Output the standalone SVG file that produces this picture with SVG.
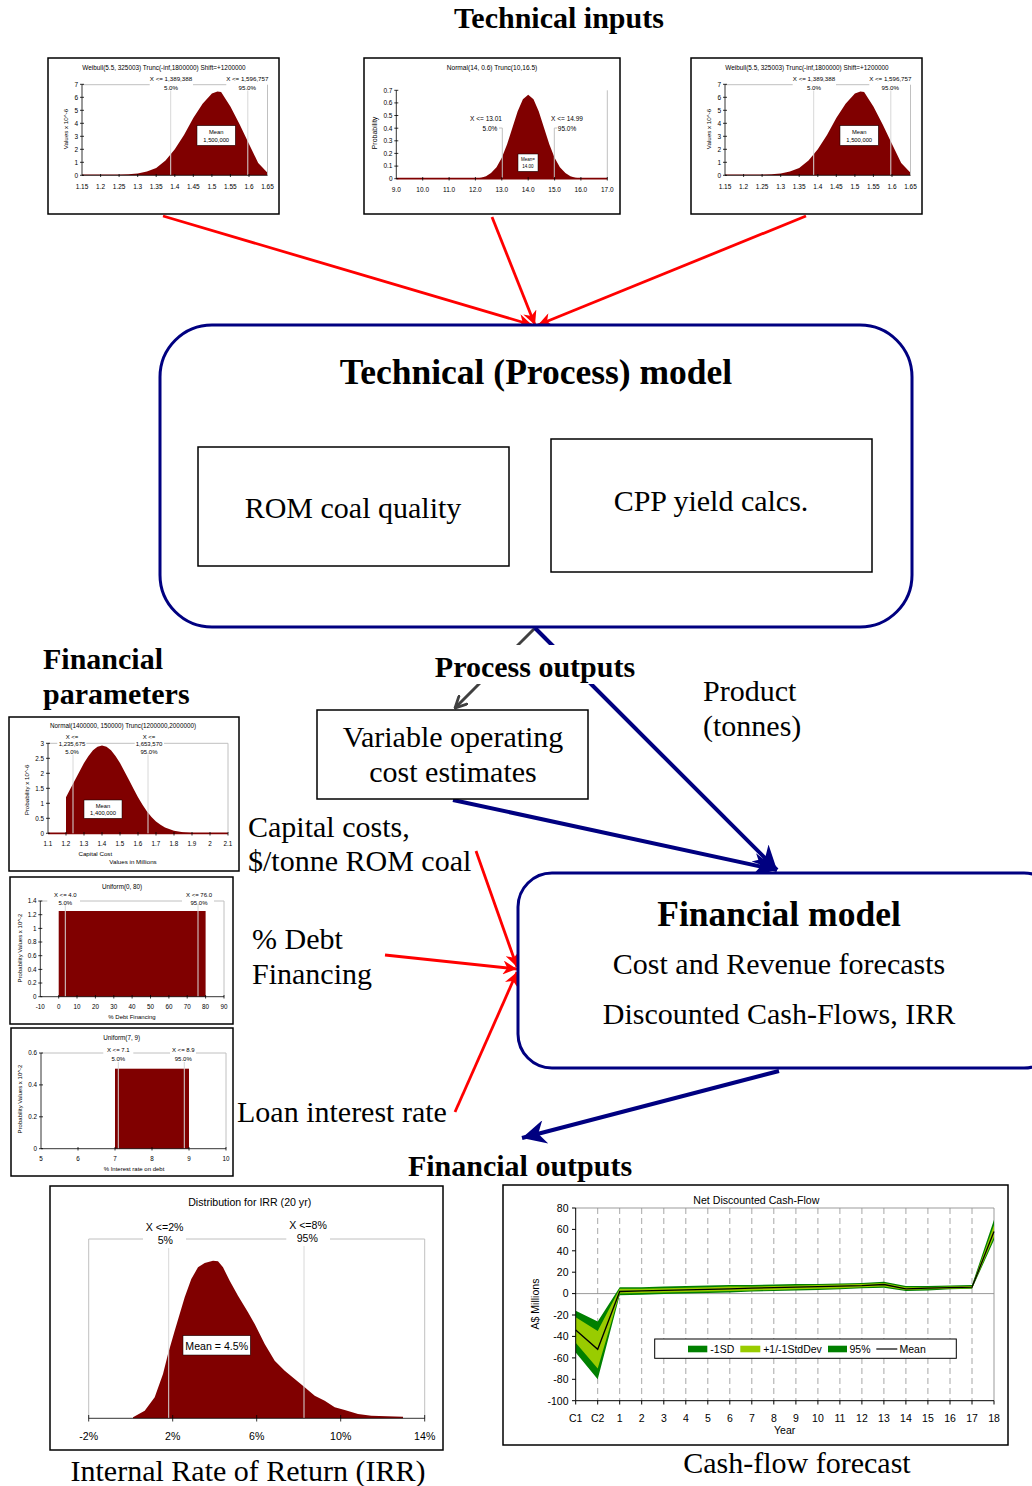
<svg xmlns="http://www.w3.org/2000/svg" width="1032" height="1486" viewBox="0 0 1032 1486">
<style>
.t{font-family:"Liberation Serif","Times New Roman",serif;fill:#000}
.b{font-weight:bold}
.s{font-family:"Liberation Sans",Arial,sans-serif;fill:#000}
.frame{fill:#fff;stroke:#000;stroke-width:1.5}
.dist{fill:#800000}
.gl{stroke:#c0c0c0;stroke-width:1;fill:none}
.wl{stroke:#d8d8d8;stroke-width:1;fill:none}
.ax{stroke:#000;stroke-width:0.8;fill:none}
.mb{fill:#fff;stroke:#000;stroke-width:0.5}
.red{stroke:#ff0000;stroke-width:2.8;fill:none}
.navy{stroke:#000080;stroke-width:4;fill:none}
.box{fill:#fff;stroke:#000;stroke-width:1.5}
.rbox{fill:#fff;stroke:#000080;stroke-width:3}
</style>
<defs>
<marker id="ahR" markerUnits="userSpaceOnUse" viewBox="0 0 10 10" refX="10" refY="5" markerWidth="16" markerHeight="14" orient="auto"><path d="M0,0 L10,5 L0,10 L3,5 Z" fill="#ff0000"/></marker>
<marker id="ahN" markerUnits="userSpaceOnUse" viewBox="0 0 10 10" refX="10" refY="5" markerWidth="28" markerHeight="24" orient="auto"><path d="M0,0 L10,5 L0,10 L3,5 Z" fill="#000080"/></marker>
<marker id="ahG" markerUnits="userSpaceOnUse" viewBox="0 0 10 10" refX="9" refY="5" markerWidth="14" markerHeight="14" orient="auto"><path d="M0,0.5 L9,5 L0,9.5" fill="none" stroke="#404040" stroke-width="2"/></marker>
<marker id="ahK" markerUnits="userSpaceOnUse" viewBox="0 0 10 10" refX="10" refY="5" markerWidth="14" markerHeight="14" orient="auto"><path d="M0,0 L10,5 L0,10 Z" fill="#333"/></marker>
</defs>
<rect width="1032" height="1486" fill="#fff"/>

<!-- Titles -->
<text class="t b" x="559" y="28" font-size="30" text-anchor="middle">Technical inputs</text>

<!-- Top chart 1 -->
<g id="chart-weibull-1">
<rect class="frame" x="48" y="58" width="231" height="156"/>
<text class="s" x="164" y="69.5" font-size="6.4" text-anchor="middle">Weibull(5.5, 325003) Trunc(-inf,1800000) Shift=+1200000</text>
<path class="dist" d="M82,175.3 L82,174.5 L100.6,174.5 L119.1,174.4 L128.4,174.2 L137.7,173.4 L146.9,171.4 L156.2,167.9 L165.5,160.4 L174.8,149.3 L184.0,135.0 L193.3,118.1 L202.6,103.8 L211.9,93.4 L217.4,91.4 L221.1,92.1 L230.4,106.4 L239.7,124.6 L249.0,144.1 L258.2,163.0 L267.5,172.7 L267.5,175.3 Z"/>
<path class="gl" d="M82,84.7 H149.7 M193,84.7 H226.3 M267.5,84.7 V175.3"/>
<path class="wl" d="M170.7,90.5 V175.3 M247.8,90.5 V175.3"/>
<text class="s" font-size="6.2" text-anchor="middle"><tspan x="171" y="80.5">X &lt;= 1,389,388</tspan><tspan x="171" y="89.5">5.0%</tspan><tspan x="247.3" y="80.5">X &lt;= 1,596,757</tspan><tspan x="247.3" y="89.5">95.0%</tspan></text>
<path class="ax" d="M82,84.3 V175.3 H267.5 M80,175.3 H84 M80,162.3 H84 M80,149.3 H84 M80,136.3 H84 M80,123.3 H84 M80,110.3 H84 M80,97.3 H84 M80,84.3 H84 M100.6,174 V177 M119.1,174 V177 M137.7,174 V177 M156.2,174 V177 M174.8,174 V177 M193.3,174 V177 M211.9,174 V177 M230.4,174 V177 M249,174 V177"/>
<text class="s" font-size="6.5" text-anchor="end"><tspan x="78" y="177.6">0</tspan><tspan x="78" y="164.6">1</tspan><tspan x="78" y="151.6">2</tspan><tspan x="78" y="138.6">3</tspan><tspan x="78" y="125.6">4</tspan><tspan x="78" y="112.6">5</tspan><tspan x="78" y="99.6">6</tspan><tspan x="78" y="86.6">7</tspan></text>
<text class="s" font-size="6.5" text-anchor="middle"><tspan x="82" y="188.5">1.15</tspan><tspan x="100.6" y="188.5">1.2</tspan><tspan x="119.1" y="188.5">1.25</tspan><tspan x="137.7" y="188.5">1.3</tspan><tspan x="156.2" y="188.5">1.35</tspan><tspan x="174.8" y="188.5">1.4</tspan><tspan x="193.3" y="188.5">1.45</tspan><tspan x="211.9" y="188.5">1.5</tspan><tspan x="230.4" y="188.5">1.55</tspan><tspan x="249" y="188.5">1.6</tspan><tspan x="267.5" y="188.5">1.65</tspan></text>
<text class="s" font-size="6.2" text-anchor="middle" transform="translate(67.5,129) rotate(-90)">Values x 10^-6</text>
<rect class="mb" x="197" y="125.7" width="38.3" height="19.6"/>
<text class="s" font-size="5.8" text-anchor="middle"><tspan x="216.2" y="133.7">Mean</tspan><tspan x="216.2" y="141.5">1,500,000</tspan></text>
</g>

<!-- Top chart 2 -->
<g id="chart-normal">
<rect class="frame" x="364" y="58" width="256" height="156"/>
<text class="s" x="492" y="69.5" font-size="6.6" text-anchor="middle">Normal(14, 0.6) Trunc(10,16.5)</text>
<path class="dist" d="M470,178.7 L475.4,178.4 L481,177.8 L486.0,176.3 L491,173 L496.5,167.3 L501.8,157.7 L507.1,144.2 L512.4,127.8 L517.6,111.5 L522.9,99.3 L528.2,94.7 L533.5,99.3 L538.8,111.5 L544.0,127.8 L549.3,144.2 L554.6,157.7 L559.9,167.3 L565.4,173 L570.4,176.3 L575.4,177.8 L580.9,178.4 L586,178.7 Z"/>
<path class="gl" d="M607.3,90.3 V178.7 M499,128 H502.3 V178.7 M554.3,178.7 V128 H557"/>
<text class="s" font-size="6.5" text-anchor="middle"><tspan x="486" y="121">X &lt;= 13.01</tspan><tspan x="490" y="131">5.0%</tspan><tspan x="567" y="121">X &lt;= 14.99</tspan><tspan x="567" y="131">95.0%</tspan></text>
<path d="M396.3,178.7 H607.3" stroke="#800000" stroke-width="1.8"/>
<path class="ax" d="M396.3,90.3 V178.7 M394.3,178.7 H398.3 M394.3,166.1 H398.3 M394.3,153.4 H398.3 M394.3,140.8 H398.3 M394.3,128.2 H398.3 M394.3,115.5 H398.3 M394.3,102.9 H398.3 M394.3,90.3 H398.3 M422.7,177 V180.5 M449.1,177 V180.5 M475.4,177 V180.5 M501.8,177 V180.5 M528.2,177 V180.5 M554.6,177 V180.5 M580.9,177 V180.5 M607.3,177 V180.5"/>
<text class="s" font-size="6.5" text-anchor="end"><tspan x="392.5" y="181">0</tspan><tspan x="392.5" y="168.4">0.1</tspan><tspan x="392.5" y="155.7">0.2</tspan><tspan x="392.5" y="143.1">0.3</tspan><tspan x="392.5" y="130.5">0.4</tspan><tspan x="392.5" y="117.8">0.5</tspan><tspan x="392.5" y="105.2">0.6</tspan><tspan x="392.5" y="92.6">0.7</tspan></text>
<text class="s" font-size="6.5" text-anchor="middle"><tspan x="396.3" y="192">9.0</tspan><tspan x="422.7" y="192">10.0</tspan><tspan x="449.1" y="192">11.0</tspan><tspan x="475.4" y="192">12.0</tspan><tspan x="501.8" y="192">13.0</tspan><tspan x="528.2" y="192">14.0</tspan><tspan x="554.6" y="192">15.0</tspan><tspan x="580.9" y="192">16.0</tspan><tspan x="607.3" y="192">17.0</tspan></text>
<text class="s" font-size="7" text-anchor="middle" transform="translate(376.5,133) rotate(-90)">Probability</text>
<rect class="mb" x="518" y="154" width="20" height="17.3" stroke-width="0.8"/>
<text class="s" font-size="4.5" text-anchor="middle"><tspan x="528" y="160.5">Mean=</tspan><tspan x="528" y="168">14.00</tspan></text>
</g>

<!-- Top chart 3 -->
<g id="chart-weibull-2" transform="translate(643,0)">
<rect class="frame" x="48" y="58" width="231" height="156"/>
<text class="s" x="164" y="69.5" font-size="6.4" text-anchor="middle">Weibull(5.5, 325003) Trunc(-inf,1800000) Shift=+1200000</text>
<path class="dist" d="M82,175.3 L82,174.5 L100.6,174.5 L119.1,174.4 L128.4,174.2 L137.7,173.4 L146.9,171.4 L156.2,167.9 L165.5,160.4 L174.8,149.3 L184.0,135.0 L193.3,118.1 L202.6,103.8 L211.9,93.4 L217.4,91.4 L221.1,92.1 L230.4,106.4 L239.7,124.6 L249.0,144.1 L258.2,163.0 L267.5,172.7 L267.5,175.3 Z"/>
<path class="gl" d="M82,84.7 H149.7 M193,84.7 H226.3 M267.5,84.7 V175.3"/>
<path class="wl" d="M170.7,90.5 V175.3 M247.8,90.5 V175.3"/>
<text class="s" font-size="6.2" text-anchor="middle"><tspan x="171" y="80.5">X &lt;= 1,389,388</tspan><tspan x="171" y="89.5">5.0%</tspan><tspan x="247.3" y="80.5">X &lt;= 1,596,757</tspan><tspan x="247.3" y="89.5">95.0%</tspan></text>
<path class="ax" d="M82,84.3 V175.3 H267.5 M80,175.3 H84 M80,162.3 H84 M80,149.3 H84 M80,136.3 H84 M80,123.3 H84 M80,110.3 H84 M80,97.3 H84 M80,84.3 H84 M100.6,174 V177 M119.1,174 V177 M137.7,174 V177 M156.2,174 V177 M174.8,174 V177 M193.3,174 V177 M211.9,174 V177 M230.4,174 V177 M249,174 V177"/>
<text class="s" font-size="6.5" text-anchor="end"><tspan x="78" y="177.6">0</tspan><tspan x="78" y="164.6">1</tspan><tspan x="78" y="151.6">2</tspan><tspan x="78" y="138.6">3</tspan><tspan x="78" y="125.6">4</tspan><tspan x="78" y="112.6">5</tspan><tspan x="78" y="99.6">6</tspan><tspan x="78" y="86.6">7</tspan></text>
<text class="s" font-size="6.5" text-anchor="middle"><tspan x="82" y="188.5">1.15</tspan><tspan x="100.6" y="188.5">1.2</tspan><tspan x="119.1" y="188.5">1.25</tspan><tspan x="137.7" y="188.5">1.3</tspan><tspan x="156.2" y="188.5">1.35</tspan><tspan x="174.8" y="188.5">1.4</tspan><tspan x="193.3" y="188.5">1.45</tspan><tspan x="211.9" y="188.5">1.5</tspan><tspan x="230.4" y="188.5">1.55</tspan><tspan x="249" y="188.5">1.6</tspan><tspan x="267.5" y="188.5">1.65</tspan></text>
<text class="s" font-size="6.2" text-anchor="middle" transform="translate(67.5,129) rotate(-90)">Values x 10^-6</text>
<rect class="mb" x="197" y="125.7" width="38.3" height="19.6"/>
<text class="s" font-size="5.8" text-anchor="middle"><tspan x="216.2" y="133.7">Mean</tspan><tspan x="216.2" y="141.5">1,500,000</tspan></text>
</g>

<!-- Connectors -->
<g id="connectors">
<line class="red" x1="163" y1="216" x2="532" y2="325" marker-end="url(#ahR)"/>
<line class="red" x1="492" y1="217" x2="535" y2="325" marker-end="url(#ahR)"/>
<line class="red" x1="806" y1="216" x2="538" y2="325" marker-end="url(#ahR)"/>
<line x1="510" y1="506" x2="550" y2="506" stroke="#333" stroke-width="6" marker-end="url(#ahK)"/>
<line x1="535" y1="628" x2="455" y2="708" stroke="#404040" stroke-width="3" marker-end="url(#ahG)"/>
<line class="navy" x1="535" y1="628" x2="777" y2="870" marker-end="url(#ahN)"/>
<line class="navy" x1="453" y1="800" x2="777" y2="870" marker-end="url(#ahN)"/>
<line class="red" x1="476" y1="851" x2="517" y2="967" marker-end="url(#ahR)"/>
<line class="red" x1="385" y1="955" x2="517" y2="969" marker-end="url(#ahR)"/>
<line class="red" x1="455" y1="1112" x2="517" y2="972" marker-end="url(#ahR)"/>
<line class="navy" x1="779" y1="1071" x2="522" y2="1138" marker-end="url(#ahN)"/>
</g>

<!-- Technical process model -->
<g id="process-model">
<rect class="rbox" x="160" y="325" width="752" height="302" rx="52" ry="52"/>
<text class="t b" x="536" y="384" font-size="35.5" text-anchor="middle">Technical (Process) model</text>
</g>
<g id="rom-coal-quality">
<rect class="box" x="198" y="447" width="311" height="119"/>
<text class="t" x="353" y="518" font-size="30" text-anchor="middle">ROM coal quality</text>
</g>
<g id="cpp-yield">
<rect class="box" x="551" y="439" width="321" height="133"/>
<text class="t" x="711" y="511" font-size="30" text-anchor="middle">CPP yield calcs.</text>
</g>

<!-- Labels -->
<g id="process-outputs-label">
<rect x="427" y="645" width="216" height="39" fill="#fff"/>
<text class="t b" x="535" y="677" font-size="30" text-anchor="middle">Process outputs</text>
</g>
<text class="t b" font-size="30"><tspan x="43" y="669">Financial</tspan><tspan x="43" y="704">parameters</tspan></text>
<text class="t" font-size="30"><tspan x="703" y="701">Product</tspan><tspan x="703" y="736">(tonnes)</tspan></text>

<g id="variable-operating-cost">
<rect class="box" x="317" y="710" width="271" height="89"/>
<text class="t" font-size="30" text-anchor="middle"><tspan x="453" y="747">Variable operating</tspan><tspan x="453" y="782">cost estimates</tspan></text>
</g>

<text class="t" font-size="30"><tspan x="248" y="837">Capital costs,</tspan><tspan x="248" y="871">$/tonne ROM coal</tspan></text>
<text class="t" font-size="30"><tspan x="252" y="949">% Debt</tspan><tspan x="252" y="984">Financing</tspan></text>
<text class="t" x="237" y="1122" font-size="30">Loan interest rate</text>

<!-- Financial model -->
<g id="financial-model">
<rect class="rbox" x="518" y="873" width="540" height="195" rx="34" ry="34"/>
<text class="t b" x="779" y="926" font-size="35.5" text-anchor="middle">Financial model</text>
<text class="t" font-size="30" text-anchor="middle"><tspan x="779" y="974">Cost and Revenue forecasts</tspan><tspan x="779" y="1024">Discounted Cash-Flows, IRR</tspan></text>
</g>

<!-- Financial chart 1: capital cost -->
<g id="chart-capital-cost">
<rect class="frame" x="9" y="717" width="230" height="154"/>
<text class="s" x="123" y="728" font-size="6.3" text-anchor="middle">Normal(1400000, 150000) Trunc(1200000,2000000)</text>
<path class="dist" d="M66,833.3 L66,797.2 L70.5,788.5 L75,780.1 L79.5,771.5 L84,763.0 L88.5,756 L93,750.3 L97.5,746.8 L102,745.5 L106.5,746.8 L111,750.3 L115.5,756 L120,763.0 L124.5,771.5 L129,780.1 L133.5,788.8 L138,797.2 L142.5,804.7 L147,811.4 L151.5,817 L156,821.4 L160.5,824.8 L165,827.5 L174,830.8 L183,832.3 L192,833.0 L210,833.3 Z"/>
<path d="M48,833.3 H228" stroke="#800000" stroke-width="1.8"/>
<path class="gl" d="M48,743.3 H57.3 M86.3,743.3 H134.7 M164,743.3 H228 V833.3"/>
<path class="wl" d="M73,754.5 V833.3 M148,754.5 V833.3"/>
<text class="s" font-size="6" text-anchor="middle"><tspan x="72" y="738.5">X &lt;=</tspan><tspan x="72" y="746">1,235,675</tspan><tspan x="72" y="753.5">5.0%</tspan><tspan x="149" y="738.5">X &lt;=</tspan><tspan x="149" y="746">1,653,570</tspan><tspan x="149" y="753.5">95.0%</tspan></text>
<path class="ax" d="M48,743.3 V833.3 M46,833.3 H50 M46,818.3 H50 M46,803.3 H50 M46,788.3 H50 M46,773.3 H50 M46,758.3 H50 M46,743.3 H50 M66,832 V835.5 M84,832 V835.5 M102,832 V835.5 M120,832 V835.5 M138,832 V835.5 M156,832 V835.5 M174,832 V835.5 M192,832 V835.5 M210,832 V835.5 M228,832 V835.5"/>
<text class="s" font-size="6.3" text-anchor="end"><tspan x="44" y="835.5">0</tspan><tspan x="44" y="820.5">0.5</tspan><tspan x="44" y="805.5">1</tspan><tspan x="44" y="790.5">1.5</tspan><tspan x="44" y="775.5">2</tspan><tspan x="44" y="760.5">2.5</tspan><tspan x="44" y="745.5">3</tspan></text>
<text class="s" font-size="6.3" text-anchor="middle"><tspan x="48" y="845.5">1.1</tspan><tspan x="66" y="845.5">1.2</tspan><tspan x="84" y="845.5">1.3</tspan><tspan x="102" y="845.5">1.4</tspan><tspan x="120" y="845.5">1.5</tspan><tspan x="138" y="845.5">1.6</tspan><tspan x="156" y="845.5">1.7</tspan><tspan x="174" y="845.5">1.8</tspan><tspan x="192" y="845.5">1.9</tspan><tspan x="210" y="845.5">2</tspan><tspan x="228" y="845.5">2.1</tspan></text>
<text class="s" font-size="6.2" text-anchor="middle"><tspan x="95.3" y="855.5">Capital Cost</tspan><tspan x="133" y="864">Values in Millions</tspan></text>
<text class="s" font-size="6.2" text-anchor="middle" transform="translate(28.5,790) rotate(-90)">Probability x 10^-6</text>
<rect class="mb" x="84" y="800" width="38" height="18.3"/>
<text class="s" font-size="5.8" text-anchor="middle"><tspan x="103" y="807.5">Mean</tspan><tspan x="103" y="815.3">1,400,000</tspan></text>
</g>

<!-- Financial chart 2: debt financing -->
<g id="chart-debt-financing">
<rect class="frame" x="10" y="877" width="223" height="147"/>
<text class="s" x="122" y="889" font-size="6.3" text-anchor="middle">Uniform(0, 80)</text>
<rect class="dist" x="58.7" y="911" width="146.9" height="85.7"/>
<path class="gl" d="M40.3,901 H47.3 M80,901 H182 M214,901 H224 V996.7"/>
<path class="wl" d="M65.3,905 V996.7 M198,905 V996.7"/>
<text class="s" font-size="6" text-anchor="middle"><tspan x="65.3" y="896.5">X &lt;= 4.0</tspan><tspan x="65.3" y="904.5">5.0%</tspan><tspan x="199" y="896.5">X &lt;= 76.0</tspan><tspan x="199" y="904.5">95.0%</tspan></text>
<path class="ax" d="M40.3,901 V996.7 H224 M38.3,996.7 H42.3 M38.3,983 H42.3 M38.3,969.4 H42.3 M38.3,955.7 H42.3 M38.3,942 H42.3 M38.3,928.4 H42.3 M38.3,914.7 H42.3 M38.3,901 H42.3 M58.7,995 V998.5 M77,995 V998.5 M95.4,995 V998.5 M113.8,995 V998.5 M132.1,995 V998.5 M150.5,995 V998.5 M168.9,995 V998.5 M187.2,995 V998.5 M205.6,995 V998.5 M224,995 V998.5"/>
<text class="s" font-size="6.3" text-anchor="end"><tspan x="36.5" y="999">0</tspan><tspan x="36.5" y="985.3">0.2</tspan><tspan x="36.5" y="971.7">0.4</tspan><tspan x="36.5" y="958">0.6</tspan><tspan x="36.5" y="944.3">0.8</tspan><tspan x="36.5" y="930.7">1</tspan><tspan x="36.5" y="917">1.2</tspan><tspan x="36.5" y="903.3">1.4</tspan></text>
<text class="s" font-size="6.3" text-anchor="middle"><tspan x="40.3" y="1008.5">-10</tspan><tspan x="58.7" y="1008.5">0</tspan><tspan x="77" y="1008.5">10</tspan><tspan x="95.4" y="1008.5">20</tspan><tspan x="113.8" y="1008.5">30</tspan><tspan x="132.1" y="1008.5">40</tspan><tspan x="150.5" y="1008.5">50</tspan><tspan x="168.9" y="1008.5">60</tspan><tspan x="187.2" y="1008.5">70</tspan><tspan x="205.6" y="1008.5">80</tspan><tspan x="224" y="1008.5">90</tspan></text>
<text class="s" x="132" y="1018.5" font-size="6" text-anchor="middle">% Debt Financing</text>
<text class="s" font-size="6" text-anchor="middle" transform="translate(21.5,948) rotate(-90)">Probability Values x 10^-2</text>
</g>

<!-- Financial chart 3: interest rate -->
<g id="chart-interest-rate">
<rect class="frame" x="11" y="1028" width="222" height="148"/>
<text class="s" x="121.7" y="1040" font-size="6.3" text-anchor="middle">Uniform(7, 9)</text>
<rect class="dist" x="115" y="1068.7" width="74" height="80"/>
<path class="gl" d="M41,1053 H103.3 M133.3,1053 H170 M196,1053 H226 V1148.7"/>
<path class="wl" d="M118.3,1062 V1148.7 M184.3,1062 V1148.7"/>
<text class="s" font-size="6" text-anchor="middle"><tspan x="118.3" y="1051.5">X &lt;= 7.1</tspan><tspan x="118.3" y="1060.5">5.0%</tspan><tspan x="183.3" y="1051.5">X &lt;= 8.9</tspan><tspan x="183.3" y="1060.5">95.0%</tspan></text>
<path class="ax" d="M41,1053 V1148.7 H226 M39,1148.7 H43 M39,1116.8 H43 M39,1084.9 H43 M39,1053 H43 M78,1147 V1150.5 M115,1147 V1150.5 M152,1147 V1150.5 M189,1147 V1150.5 M226,1147 V1150.5"/>
<text class="s" font-size="6.3" text-anchor="end"><tspan x="37" y="1151">0</tspan><tspan x="37" y="1119.1">0.2</tspan><tspan x="37" y="1087.2">0.4</tspan><tspan x="37" y="1055.3">0.6</tspan></text>
<text class="s" font-size="6.3" text-anchor="middle"><tspan x="41" y="1160.5">5</tspan><tspan x="78" y="1160.5">6</tspan><tspan x="115" y="1160.5">7</tspan><tspan x="152" y="1160.5">8</tspan><tspan x="189" y="1160.5">9</tspan><tspan x="226" y="1160.5">10</tspan></text>
<text class="s" x="134" y="1170.5" font-size="6" text-anchor="middle">% Interest rate on debt</text>
<text class="s" font-size="6" text-anchor="middle" transform="translate(22,1099) rotate(-90)">Probability Values x 10^-2</text>
</g>

<text class="t b" x="520" y="1176" font-size="30" text-anchor="middle">Financial outputs</text>

<!-- IRR chart -->
<g id="chart-irr">
<rect class="frame" x="50" y="1186" width="393" height="264"/>
<text class="s" x="249.7" y="1205.5" font-size="10.6" text-anchor="middle">Distribution for IRR (20 yr)</text>
<path class="dist" d="M133,1418.3 L133,1417.3 L144.7,1410.7 L154.7,1397.3 L163,1374 L168,1354 L174.7,1330.7 L179.7,1314 L184.7,1297.3 L191.3,1279 L198,1267.3 L204.7,1263 L213,1260.7 L218,1261.3 L223,1267.3 L229.7,1280.7 L238,1295.7 L248,1312.3 L254.7,1324 L264.7,1344 L274.7,1360.7 L284.7,1370.7 L294.7,1379 L304.7,1387.3 L314.7,1395.7 L324.7,1400.7 L334.7,1407.3 L344.7,1410 L358,1414 L371.3,1415.7 L403,1416.7 L403,1418.3 Z"/>
<path class="gl" d="M88.7,1239 H143 M186,1239 H286.3 M330,1239 H424.7 M88.7,1239 V1418.3 M424.7,1239 V1418.3"/>
<path class="wl" d="M168.7,1248 V1418.3 M304,1246 V1418.3"/>
<text class="s" font-size="10.6" text-anchor="middle"><tspan x="164.7" y="1230.5">X &lt;=2%</tspan><tspan x="165.3" y="1244">5%</tspan><tspan x="308" y="1228.5">X &lt;=8%</tspan><tspan x="307.3" y="1242">95%</tspan></text>
<path class="ax" d="M88.7,1418.3 H424.7 M88.7,1415 V1421.5 M172.7,1415 V1421.5 M256.7,1415 V1421.5 M340.7,1415 V1421.5 M424.7,1415 V1421.5"/>
<text class="s" font-size="10.6" text-anchor="middle"><tspan x="88.7" y="1439.5">-2%</tspan><tspan x="172.7" y="1439.5">2%</tspan><tspan x="256.7" y="1439.5">6%</tspan><tspan x="340.7" y="1439.5">10%</tspan><tspan x="424.7" y="1439.5">14%</tspan></text>
<rect class="mb" x="183" y="1335.7" width="67.3" height="19.3" stroke-width="1"/>
<text class="s" x="216.7" y="1349.5" font-size="10.6" text-anchor="middle">Mean = 4.5%</text>
</g>
<text class="t" x="248" y="1481" font-size="30" text-anchor="middle">Internal Rate of Return (IRR)</text>

<!-- Cash-flow chart -->
<g id="chart-cash-flow">
<rect class="frame" x="503" y="1185" width="505" height="260"/>
<text class="s" x="756.3" y="1203.5" font-size="10.6" text-anchor="middle">Net Discounted Cash-Flow</text>
<path d="M597.7,1208 V1400.7 M619.7,1208 V1400.7 M641.7,1208 V1400.7 M663.8,1208 V1400.7 M685.8,1208 V1400.7 M707.8,1208 V1400.7 M729.8,1208 V1400.7 M751.8,1208 V1400.7 M773.8,1208 V1400.7 M795.9,1208 V1400.7 M817.9,1208 V1400.7 M839.9,1208 V1400.7 M861.9,1208 V1400.7 M883.9,1208 V1400.7 M905.9,1208 V1400.7 M927.9,1208 V1400.7 M950,1208 V1400.7 M972,1208 V1400.7" stroke="#909090" stroke-width="0.8" stroke-dasharray="6,4" fill="none"/>
<path d="M575.7,1208 H994 V1400.7 M575.7,1293.6 H994" stroke="#909090" stroke-width="0.9" fill="none"/>
<polygon fill="#008000" points="575.7,1310.7 597.7,1321.4 619.7,1287.2 641.7,1287.2 663.8,1286.6 685.8,1286.1 707.8,1285.6 729.8,1285.0 751.8,1285.0 773.8,1284.5 795.9,1284.0 817.9,1284.0 839.9,1283.4 861.9,1282.9 883.9,1281.8 905.9,1286.1 927.9,1286.1 950.0,1285.6 972.0,1285.0 994.0,1219.7 994.0,1240.1 972.0,1288.8 950.0,1289.3 927.9,1290.4 905.9,1290.9 883.9,1287.7 861.9,1288.2 839.9,1289.3 817.9,1289.9 795.9,1290.4 773.8,1290.9 751.8,1291.5 729.8,1292.5 707.8,1293.1 685.8,1293.6 663.8,1294.1 641.7,1294.7 619.7,1295.2 597.7,1379.2 575.7,1352.5"/>
<polygon fill="#99cc00" points="575.7,1317.2 597.7,1331.1 619.7,1288.8 641.7,1288.8 663.8,1288.2 685.8,1287.7 707.8,1287.2 729.8,1286.6 751.8,1286.6 773.8,1286.1 795.9,1285.6 817.9,1285.0 839.9,1284.5 861.9,1284.0 883.9,1282.9 905.9,1287.2 927.9,1287.2 950.0,1286.6 972.0,1286.1 994.0,1225.1 994.0,1236.9 972.0,1288.2 950.0,1288.8 927.9,1289.3 905.9,1289.9 883.9,1286.6 861.9,1287.2 839.9,1288.2 817.9,1288.8 795.9,1289.3 773.8,1289.9 751.8,1290.4 729.8,1290.9 707.8,1291.5 685.8,1292.0 663.8,1292.5 641.7,1293.1 619.7,1293.6 597.7,1368.5 575.7,1342.8"/>
<polyline fill="none" stroke="#000" stroke-width="1.3" points="575.7,1330.0 597.7,1349.3 619.7,1291.5 641.7,1290.9 663.8,1290.4 685.8,1289.9 707.8,1289.3 729.8,1288.8 751.8,1288.2 773.8,1287.7 795.9,1287.2 817.9,1286.6 839.9,1286.1 861.9,1285.6 883.9,1284.5 905.9,1288.8 927.9,1288.2 950.0,1287.7 972.0,1287.2 994.0,1231.5"/>
<path d="M575.7,1208 V1400.7 H994 M572,1208 H575.7 M572,1229.4 H575.7 M572,1250.8 H575.7 M572,1272.2 H575.7 M572,1293.6 H575.7 M572,1315 H575.7 M572,1336.4 H575.7 M572,1357.9 H575.7 M572,1379.3 H575.7 M572,1400.7 H575.7 M575.7,1400.7 V1404.5 M597.7,1400.7 V1404.5 M619.7,1400.7 V1404.5 M641.7,1400.7 V1404.5 M663.8,1400.7 V1404.5 M685.8,1400.7 V1404.5 M707.8,1400.7 V1404.5 M729.8,1400.7 V1404.5 M751.8,1400.7 V1404.5 M773.8,1400.7 V1404.5 M795.9,1400.7 V1404.5 M817.9,1400.7 V1404.5 M839.9,1400.7 V1404.5 M861.9,1400.7 V1404.5 M883.9,1400.7 V1404.5 M905.9,1400.7 V1404.5 M927.9,1400.7 V1404.5 M950,1400.7 V1404.5 M972,1400.7 V1404.5 M994,1400.7 V1404.5" stroke="#000" stroke-width="1" fill="none"/>
<text class="s" font-size="10.5" text-anchor="end"><tspan x="568.5" y="1211.8">80</tspan><tspan x="568.5" y="1233.2">60</tspan><tspan x="568.5" y="1254.6">40</tspan><tspan x="568.5" y="1276">20</tspan><tspan x="568.5" y="1297.4">0</tspan><tspan x="568.5" y="1318.8">-20</tspan><tspan x="568.5" y="1340.2">-40</tspan><tspan x="568.5" y="1361.7">-60</tspan><tspan x="568.5" y="1383.1">-80</tspan><tspan x="568.5" y="1404.5">-100</tspan></text>
<text class="s" font-size="10.5" text-anchor="middle"><tspan x="575.7" y="1421.5">C1</tspan><tspan x="597.7" y="1421.5">C2</tspan><tspan x="619.7" y="1421.5">1</tspan><tspan x="641.7" y="1421.5">2</tspan><tspan x="663.8" y="1421.5">3</tspan><tspan x="685.8" y="1421.5">4</tspan><tspan x="707.8" y="1421.5">5</tspan><tspan x="729.8" y="1421.5">6</tspan><tspan x="751.8" y="1421.5">7</tspan><tspan x="773.8" y="1421.5">8</tspan><tspan x="795.9" y="1421.5">9</tspan><tspan x="817.9" y="1421.5">10</tspan><tspan x="839.9" y="1421.5">11</tspan><tspan x="861.9" y="1421.5">12</tspan><tspan x="883.9" y="1421.5">13</tspan><tspan x="905.9" y="1421.5">14</tspan><tspan x="927.9" y="1421.5">15</tspan><tspan x="950" y="1421.5">16</tspan><tspan x="972" y="1421.5">17</tspan><tspan x="994" y="1421.5">18</tspan></text>
<text class="s" x="784.7" y="1433.5" font-size="10.5" text-anchor="middle">Year</text>
<text class="s" font-size="10.5" text-anchor="middle" transform="translate(538.5,1304) rotate(-90)">A$ Millions</text>
<rect x="654.7" y="1339" width="301.6" height="19.3" fill="#fff" stroke="#000" stroke-width="1"/>
<rect x="688" y="1345.7" width="19.3" height="6.6" fill="#008000"/>
<rect x="740.3" y="1345.7" width="20" height="6.6" fill="#99cc00"/>
<rect x="828" y="1345.7" width="19" height="6.6" fill="#008000"/>
<line x1="876.3" y1="1349" x2="897.3" y2="1349" stroke="#000" stroke-width="1.2"/>
<text class="s" font-size="10.5"><tspan x="710.3" y="1352.8">-1SD</tspan><tspan x="763.2" y="1352.8">+1/-1StdDev</tspan><tspan x="849.5" y="1352.8">95%</tspan><tspan x="899.5" y="1352.8">Mean</tspan></text>
</g>
<text class="t" x="797" y="1473" font-size="30" text-anchor="middle">Cash-flow forecast</text>
</svg>
